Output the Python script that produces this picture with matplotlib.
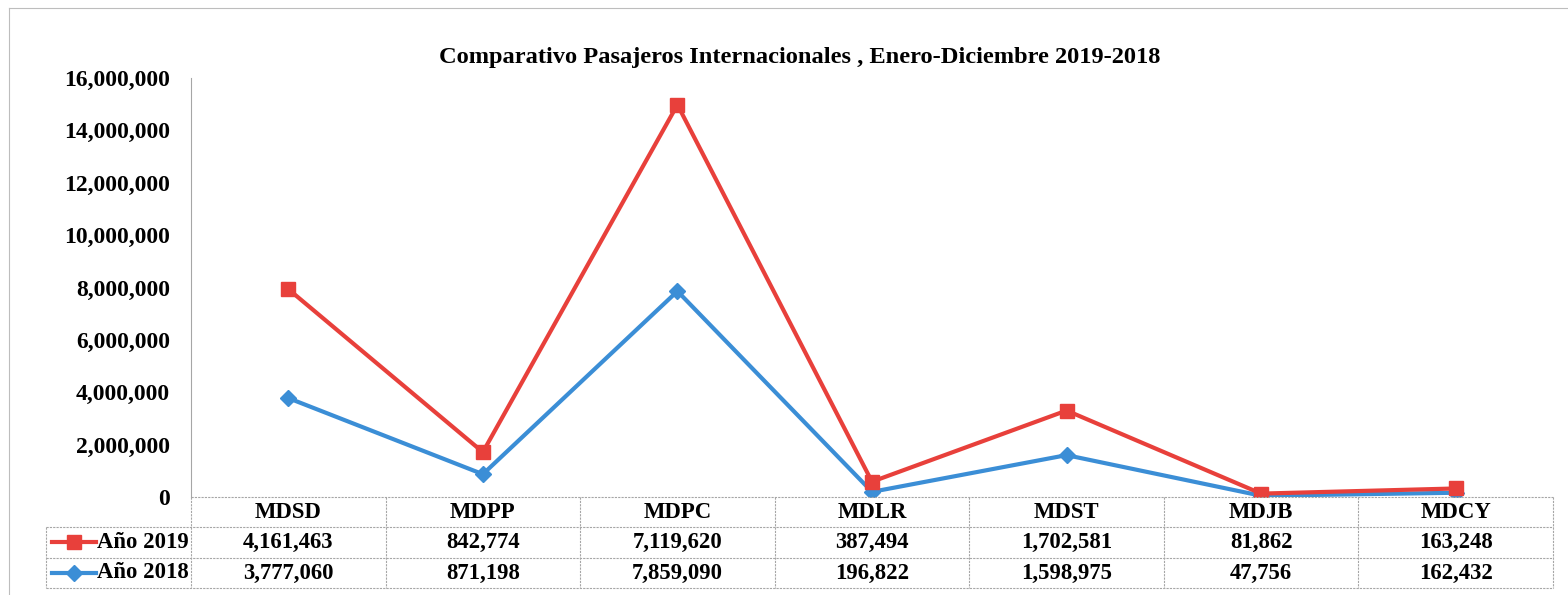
import numpy as np
import matplotlib
matplotlib.use('Agg')
import matplotlib.pyplot as plt
from matplotlib.lines import Line2D
from matplotlib.transforms import blended_transform_factory

# --- Data ---
airports = ['MDSD', 'MDPP', 'MDPC', 'MDLR', 'MDST', 'MDJB', 'MDCY']
pax_2019 = [4161463, 842774, 7119620, 387494, 1702581, 81862, 163248]
pax_2018 = [3777060, 871198, 7859090, 196822, 1598975, 47756, 162432]
series_labels = ['Año 2019', 'Año 2018']
title = 'Comparativo Pasajeros Internacionales , Enero-Diciembre 2019-2018'

red = '#E8403B'
blue = '#3B8ED6'
grid_gray = '#A6A6A6'
font = 'Liberation Serif'

W, H = 1568, 595
fig = plt.figure(figsize=(W / 100, H / 100), dpi=100)

def fx(px):
    return px / W

def fy(py):
    return (H - py) / H

# plot area in pixels
left, right, top, bottom = 191, 1553, 78, 497
ax = fig.add_axes([fx(left), fy(bottom), fx(right - left), (bottom - top) / H])

x = np.arange(len(airports))
# Excel stacked line: 2019 sits on top of 2018
stack_2019 = np.array(pax_2018) + np.array(pax_2019)

ax.plot(x, pax_2018, color=blue, lw=3, marker='D', markersize=8,
        markeredgecolor=blue, zorder=3)
ax.plot(x, stack_2019, color=red, lw=3, marker='s', markersize=10,
        markeredgecolor=red, zorder=4)

ax.set_xlim(-0.5, len(airports) - 0.5)
ax.set_ylim(0, 16000000)
ax.set_yticks(np.arange(0, 16000001, 2000000))
ax.set_yticklabels([f'{int(v):,}' for v in np.arange(0, 16000001, 2000000)],
                   fontfamily=font, fontweight='bold', fontsize=17)
ax.tick_params(axis='y', length=0, pad=15)
ax.set_xticks([])
for s in ['top', 'right', 'bottom']:
    ax.spines[s].set_visible(False)
ax.spines['left'].set_color(grid_gray)
ax.spines['left'].set_linewidth(0.8)

fig.text(fx(800), fy(57), title, ha='center', va='center',
         fontfamily=font, fontweight='bold', fontsize=17.6)

# --- Data table below the axis ---
row_y = [497, 527, 558, 588]
col_edges = np.linspace(left, right, len(airports) + 1)
tbl = dict(color=grid_gray, lw=0.8, linestyle=(0, (2, 1)))

fig.add_artist(Line2D([fx(left), fx(right)], [fy(row_y[0])] * 2, **tbl))
for yy in row_y[1:]:
    fig.add_artist(Line2D([fx(46), fx(right)], [fy(yy)] * 2, **tbl))
fig.add_artist(Line2D([fx(46), fx(46)], [fy(row_y[1]), fy(row_y[3])], **tbl))
for xe in col_edges:
    fig.add_artist(Line2D([fx(xe), fx(xe)], [fy(row_y[0]), fy(row_y[3])], **tbl))

trans = blended_transform_factory(ax.transData, fig.transFigure)
txt = dict(ha='center', va='center', fontfamily=font, fontweight='bold',
           fontsize=16.4, transform=trans)
for i, name in enumerate(airports):
    ax.text(i, fy(512), name, **txt)
    ax.text(i, fy(542), f'{pax_2019[i]:,}', **txt)
    ax.text(i, fy(573), f'{pax_2018[i]:,}', **txt)

# legend keys inside the table
for yy, lab, col, mk, ms in [(542, series_labels[0], red, 's', 10),
                              (573, series_labels[1], blue, 'D', 8)]:
    fig.add_artist(Line2D([fx(52), fx(96)], [fy(yy)] * 2, color=col, lw=3))
    fig.add_artist(Line2D([fx(74)], [fy(yy)], color=col, marker=mk,
                          markersize=ms, markeredgecolor=col))
    fig.text(fx(97), fy(yy), lab, ha='left', va='center', fontfamily=font,
             fontweight='bold', fontsize=16.4)

# outer chart frame
frame = dict(color='#BDBDBD', lw=0.8)
fig.add_artist(Line2D([fx(9), 1], [fy(8)] * 2, **frame))
fig.add_artist(Line2D([fx(9), fx(9)], [fy(8), 0], **frame))

fig.savefig('out.png', dpi=100)
